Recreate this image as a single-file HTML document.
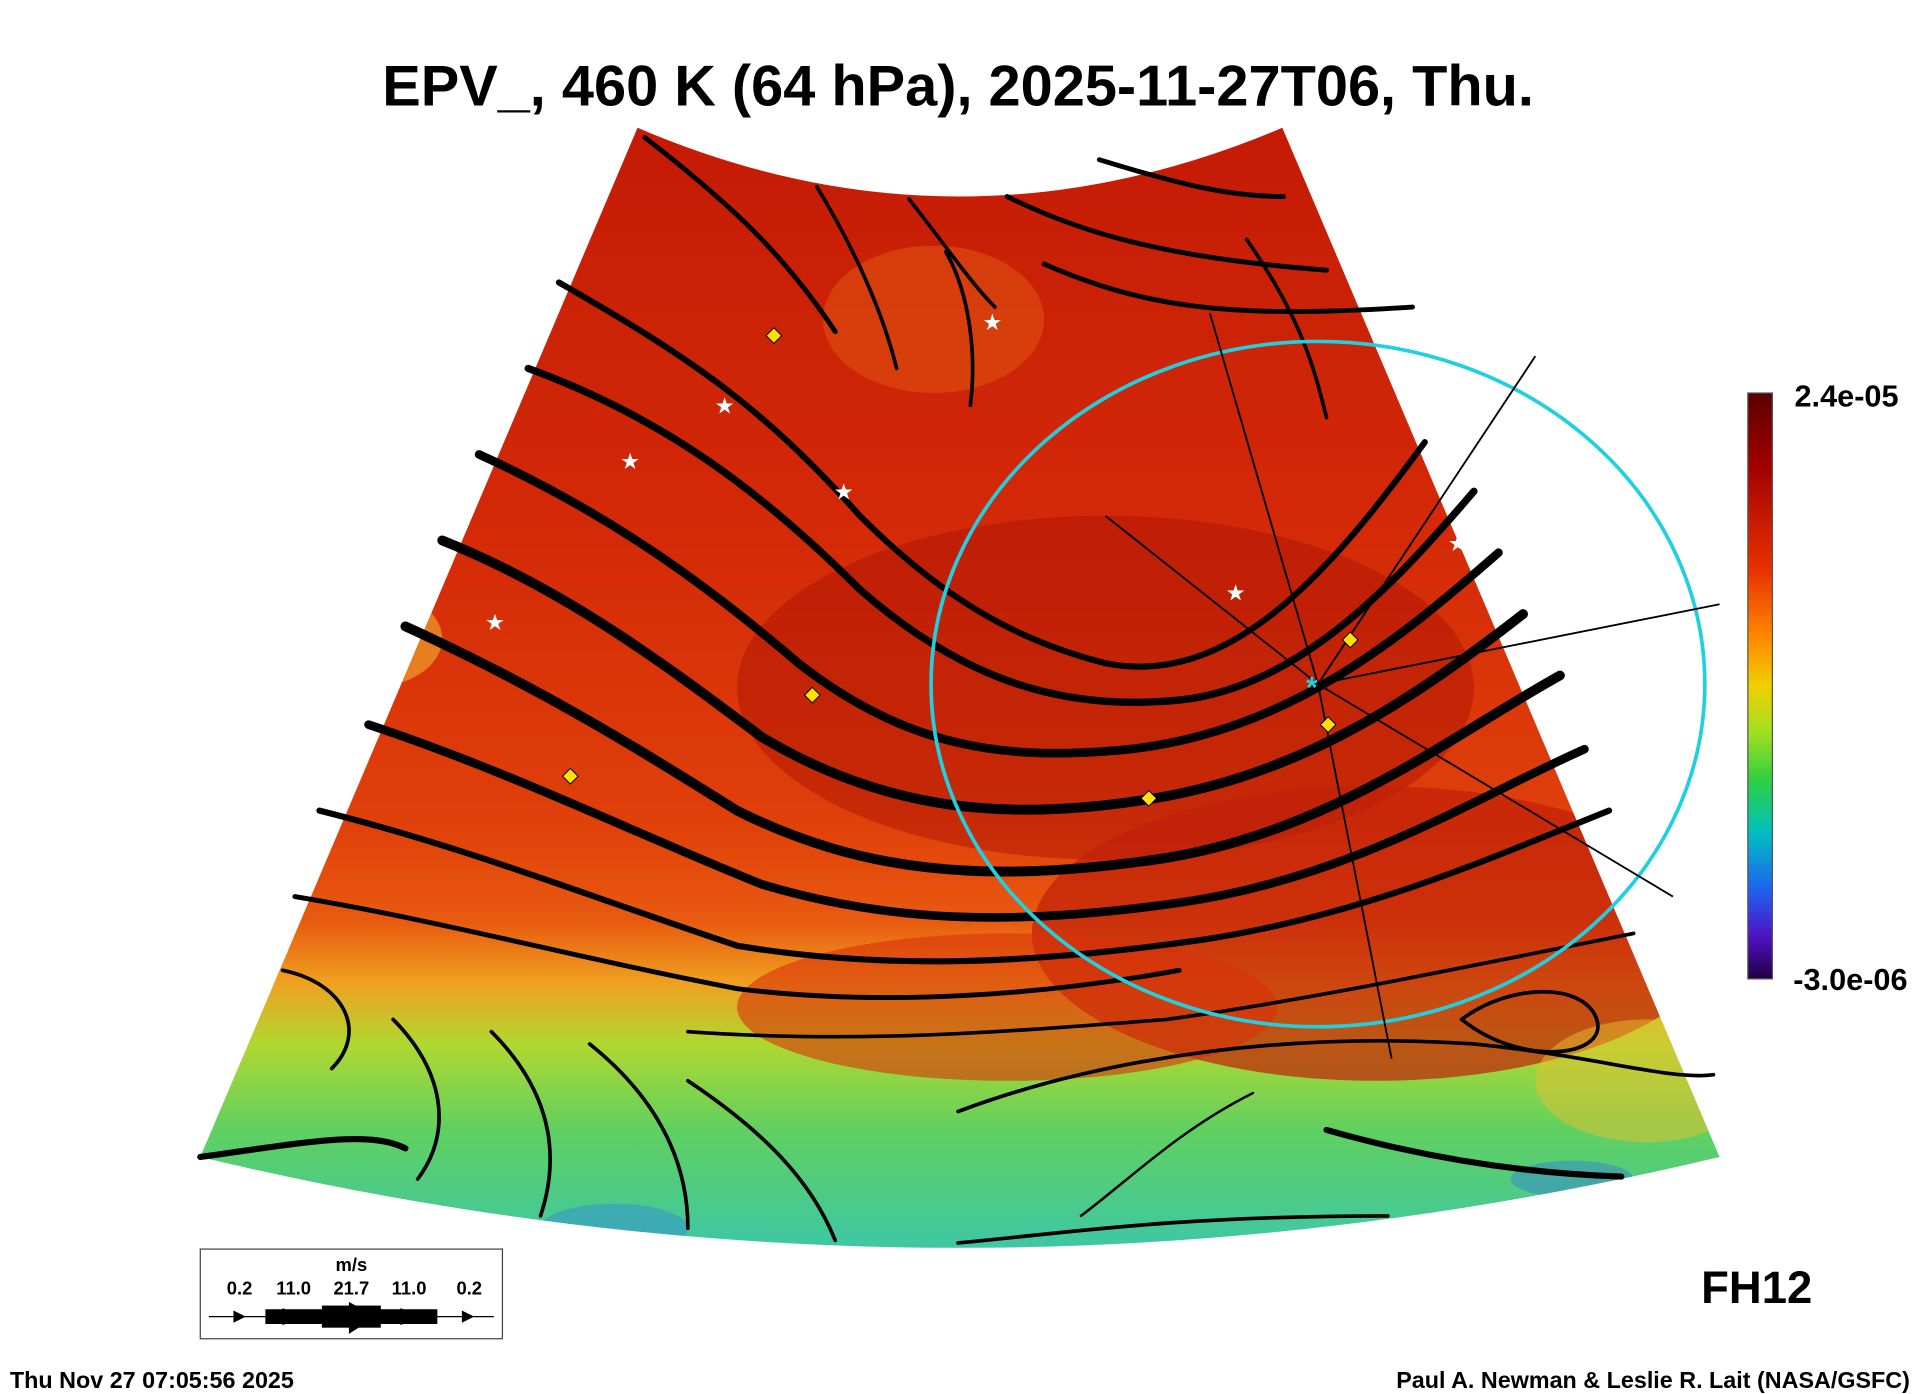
<!DOCTYPE html>
<html><head><meta charset="utf-8"><style>
html,body{margin:0;padding:0;background:#fff}
svg{display:block}
text{font-family:"Liberation Sans",Arial,sans-serif;font-weight:bold}
</style></head><body>
<svg width="1926" height="1394" viewBox="0 0 1568 1135" xmlns="http://www.w3.org/2000/svg">
<defs>
<linearGradient id="bg" x1="0" y1="0" x2="0" y2="1">
<stop offset="0" stop-color="#c41a05"/>
<stop offset="0.35" stop-color="#d42a08"/>
<stop offset="0.58" stop-color="#e0400a"/>
<stop offset="0.66" stop-color="#e85a10"/>
<stop offset="0.71" stop-color="#f0a020"/>
<stop offset="0.76" stop-color="#b0d830"/>
<stop offset="0.83" stop-color="#60d060"/>
<stop offset="0.92" stop-color="#40c8a0"/>
<stop offset="1" stop-color="#38a8d0"/>
</linearGradient>
<linearGradient id="cb" x1="0" y1="0" x2="0" y2="1">
<stop offset="0" stop-color="#5a0000"/>
<stop offset="0.12" stop-color="#a00000"/>
<stop offset="0.3" stop-color="#e83000"/>
<stop offset="0.42" stop-color="#ff8a00"/>
<stop offset="0.5" stop-color="#f0d000"/>
<stop offset="0.58" stop-color="#a0e020"/>
<stop offset="0.66" stop-color="#30d040"/>
<stop offset="0.75" stop-color="#00c0c0"/>
<stop offset="0.85" stop-color="#2060f0"/>
<stop offset="0.93" stop-color="#5010c0"/>
<stop offset="1" stop-color="#200040"/>
</linearGradient>
<clipPath id="fan"><path d="M519,104 Q780,216 1044,104 L1400,942 Q780,1090 163,942 Z"/></clipPath>
</defs>

<text x="780" y="86" font-size="47" text-anchor="middle">EPV_, 460 K (64 hPa), 2025-11-27T06, Thu.</text>

<g clip-path="url(#fan)">
<rect x="150" y="90" width="1270" height="1000" fill="url(#bg)"/>
<ellipse cx="760" cy="260" rx="90" ry="60" fill="#e05010" opacity="0.6"/>
<ellipse cx="900" cy="560" rx="300" ry="140" fill="#a81005" opacity="0.45"/>
<ellipse cx="1120" cy="760" rx="280" ry="120" fill="#c02008" opacity="0.7"/>
<ellipse cx="820" cy="820" rx="220" ry="60" fill="#d83008" opacity="0.6"/>
<ellipse cx="300" cy="520" rx="60" ry="40" fill="#f0b030" opacity="0.6"/>
<ellipse cx="1340" cy="880" rx="90" ry="50" fill="#e8c030" opacity="0.5"/>
<ellipse cx="500" cy="1000" rx="60" ry="20" fill="#3080e0" opacity="0.4"/>
<ellipse cx="1280" cy="960" rx="50" ry="15" fill="#3070e0" opacity="0.4"/>
</g>

<g fill="none" stroke="#000" stroke-linecap="round">
<path d="M525,112 C600,170 640,210 680,270" stroke-width="4"/>
<path d="M665,152 C700,210 720,260 730,300" stroke-width="3"/>
<path d="M740,162 C770,200 790,230 810,250" stroke-width="3"/>
<path d="M820,160 C880,190 950,210 1080,220" stroke-width="4"/>
<path d="M850,215 C930,250 1000,260 1150,250" stroke-width="4"/>
<path d="M895,130 C960,150 1000,160 1045,160" stroke-width="4"/>
<path d="M770,205 C790,240 795,290 790,330" stroke-width="3"/>
<path d="M455,230 C560,290 620,330 700,420 C760,480 820,520 900,540 C1000,560 1080,470 1160,360" stroke-width="5"/>
<path d="M430,300 C540,340 620,400 700,480 C780,550 860,580 960,570 C1060,560 1140,470 1200,400" stroke-width="6"/>
<path d="M390,370 C500,420 580,480 650,540 C740,610 820,620 920,610 C1050,595 1140,520 1220,450" stroke-width="7"/>
<path d="M360,440 C460,480 540,540 620,600 C720,660 820,670 940,650 C1060,630 1150,570 1240,500" stroke-width="8"/>
<path d="M330,510 C440,560 520,610 600,660 C700,710 800,720 940,700 C1080,680 1180,600 1270,550" stroke-width="8"/>
<path d="M300,590 C420,630 520,680 620,720 C720,750 820,755 960,735 C1100,715 1200,650 1290,610" stroke-width="7"/>
<path d="M260,660 C380,690 480,730 600,770 C720,790 840,785 980,765 C1110,745 1210,700 1310,660" stroke-width="5"/>
<path d="M240,730 C360,750 470,780 600,805 C720,820 850,810 960,790" stroke-width="4"/>
<path d="M560,840 C700,850 820,840 950,830 C1060,815 1180,790 1330,760" stroke-width="3"/>
<path d="M780,905 C900,860 1050,840 1200,850 C1300,860 1360,880 1395,875" stroke-width="3"/>
<path d="M163,942 C250,930 300,920 330,935" stroke-width="5"/>
<path d="M230,790 C280,800 300,840 270,870" stroke-width="3"/>
<path d="M320,830 C360,870 370,920 340,960" stroke-width="3"/>
<path d="M400,840 C440,880 460,930 440,990" stroke-width="3"/>
<path d="M480,850 C530,890 560,940 560,1000" stroke-width="3"/>
<path d="M560,880 C620,920 660,960 680,1010" stroke-width="3"/>
<path d="M1080,920 C1150,940 1230,955 1320,958" stroke-width="5"/>
<path d="M1190,830 C1230,800 1290,800 1300,830 C1310,860 1240,870 1190,830" stroke-width="3"/>
<path d="M780,1012 C860,1005 950,990 1130,990" stroke-width="3"/>
<path d="M880,990 C920,960 960,920 1020,890" stroke-width="2"/>
<path d="M1015,195 C1060,260 1070,300 1080,340" stroke-width="3"/>
</g>

<ellipse cx="1073" cy="557" rx="315" ry="279" fill="none" stroke="#20d0e0" stroke-width="3"/>
<g stroke="#000" stroke-width="1.5">
<line x1="1073" y1="557" x2="1250" y2="290"/>
<line x1="1073" y1="557" x2="1400" y2="492"/>
<line x1="1073" y1="557" x2="1362" y2="730"/>
<line x1="1073" y1="557" x2="1133" y2="862"/>
<line x1="1073" y1="557" x2="985" y2="255"/>
<line x1="1073" y1="557" x2="900" y2="420"/>
</g>
<text x="1068" y="568" font-size="24" fill="#20d0e0" text-anchor="middle">*</text>

<g fill="#ffe000" stroke="#000" stroke-width="0.8">
<rect x="625" y="269" width="9" height="9" transform="rotate(45 630 274)"/>
<rect x="657" y="562" width="9" height="9" transform="rotate(45 662 566)"/>
<rect x="460" y="628" width="9" height="9" transform="rotate(45 465 632)"/>
<rect x="931" y="646" width="9" height="9" transform="rotate(45 936 650)"/>
<rect x="1095" y="517" width="9" height="9" transform="rotate(45 1100 521)"/>
<rect x="1077" y="586" width="9" height="9" transform="rotate(45 1082 590)"/>
</g>
<g fill="#fff" font-size="16" text-anchor="middle">
<text x="808" y="268">★</text><text x="590" y="336">★</text><text x="513" y="381">★</text>
<text x="687" y="406">★</text><text x="403" y="512">★</text><text x="1006" y="488">★</text>
<text x="1187" y="448">★</text>
</g>

<rect x="1423" y="320" width="20" height="477" fill="url(#cb)" stroke="#555" stroke-width="1"/>
<text x="1461" y="331" font-size="25">2.4e-05</text>
<text x="1460" y="806" font-size="25">-3.0e-06</text>

<text x="1385" y="1061" font-size="37">FH12</text>

<rect x="163" y="1017" width="246" height="73" fill="#fff" stroke="#444" stroke-width="1"/>
<g font-size="15" text-anchor="middle">
<text x="286" y="1035">m/s</text>
<text x="195" y="1054">0.2</text><text x="239" y="1054">11.0</text><text x="286" y="1054">21.7</text>
<text x="333" y="1054">11.0</text><text x="382" y="1054">0.2</text>
</g>
<line x1="170" y1="1072" x2="402" y2="1072" stroke="#000" stroke-width="1"/>
<rect x="216" y="1066" width="140" height="12" fill="#000"/>
<rect x="262" y="1063" width="48" height="18" fill="#000"/>
<path d="M190,1067 L200,1072 L190,1077Z M230,1065 L244,1072 L230,1079Z M284,1060 L306,1072 L284,1086Z M326,1065 L340,1072 L326,1079Z M376,1067 L386,1072 L376,1077Z" fill="#000"/>

<text x="8" y="1130" font-size="19">Thu Nov 27 07:05:56 2025</text>
<text x="1555" y="1130" font-size="19" text-anchor="end">Paul A. Newman &amp; Leslie R. Lait (NASA/GSFC)</text>
</svg>
</body></html>
